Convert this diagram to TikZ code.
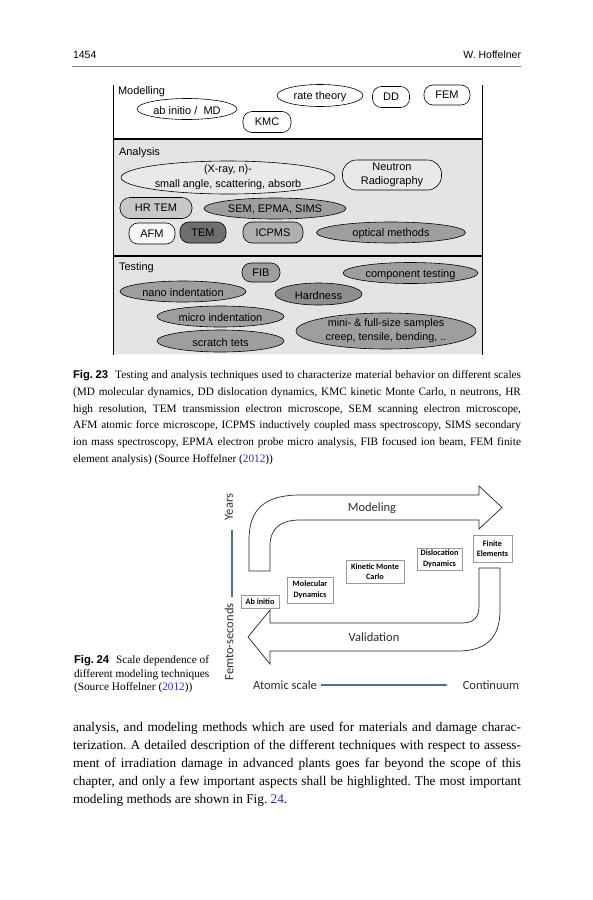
\documentclass[tikz,border=0pt]{standalone}
\usepackage{fontspec}
\setmainfont{Liberation Serif}
\newfontfamily\arialf{Liberation Sans}
\newfontfamily\calf{Carlito}
\usetikzlibrary{shapes.geometric,arrows.meta}
\definecolor{bgA}{HTML}{E4E4E4}
\definecolor{fxr}{HTML}{E9E9E9}
\definecolor{fhr}{HTML}{C8C8C8}
\definecolor{fmid}{HTML}{9E9E9E}
\definecolor{fafm}{HTML}{F7F7F7}
\definecolor{ftem}{HTML}{6F6F6F}
\definecolor{ficp}{HTML}{B0B0B0}
\definecolor{fhard}{HTML}{8E8E8E}
\definecolor{steel}{HTML}{4F6F94}
\definecolor{linkb}{HTML}{2B2BD9}
\definecolor{dgray}{HTML}{2E2E2E}
\definecolor{hdr}{HTML}{8A8A8A}
\begin{document}
\frenchspacing
\begin{tikzpicture}[x=1pt,y=-1pt,
  every node/.style={inner sep=0pt, outer sep=0pt},
  rnode/.style={draw=black, line width=0.6pt, fill=white, rounded corners=9pt,
    font=\arialf\fontsize{11}{14}\selectfont, align=center},
  enode/.style={draw=black, line width=0.6pt, ellipse, fill=white},
  elbl/.style={font=\arialf\fontsize{11}{15}\selectfont, yshift=-1.2pt},
  elbl2/.style={font=\arialf\fontsize{10.8}{14.5}\selectfont, align=center, yshift=0.3pt},
  seclbl/.style={font=\arialf\fontsize{11}{13}\selectfont, anchor=west},
  thick line/.style={line width=2.3pt, black},
  frameline/.style={line width=0.8pt, black},
  fbox/.style={draw=black!40, line width=0.5pt, fill=white,
    font=\calf\bfseries\fontsize{8.2}{10.5}\selectfont, align=center},
  flbl/.style={font=\calf\fontsize{12.5}{14}\selectfont, text=dgray},
  bigarrow/.style={draw=black!85, line width=0.7pt, fill=white, line join=miter},
  capline/.style={anchor=base west, font=\fontsize{11.3}{12}\selectfont},
  bodyline/.style={anchor=base west, font=\fontsize{13.3}{15}\selectfont},
  c24/.style={anchor=base west, font=\fontsize{11.3}{12}\selectfont}
]
\useasboundingbox (0,0) rectangle (593,900);
\fill[white] (0,0) rectangle (593,900);

% header
\node[anchor=base west, font=\arialf\fontsize{10.5}{12}\selectfont] (pnum) at (73,58) {1454};
\node[anchor=base east, font=\arialf\fontsize{10.5}{12}\selectfont] (auth) at (521,58) {W. Hoffelner};
\draw[hdr, line width=0.8pt] (72,66) -- (521,66);

% ---------------- Fig 23 ----------------
\fill[bgA] (113,140) rectangle (482,255);
\fill[bgA] (113,257) rectangle (482,354);
\draw[frameline] (113,85) -- (113,355);
\draw[frameline] (482,85) -- (482,355);
\draw[thick line] (113,139) -- (482,139);
\draw[thick line] (113,256) -- (482,256);

\node[seclbl] (modl) at (118,92) {Modelling};
\node[seclbl] (anal) at (119,153) {Analysis};
\node[seclbl] (test) at (119,268) {Testing};

% Modelling
\node[enode, minimum width=100, minimum height=21] (abmd) at (187,109) {};
\node[elbl] (abmdT) at (abmd.center) {ab initio /\ \ MD};
\node[enode, minimum width=86, minimum height=22] (rate) at (320,95.5) {};
\node[elbl] (rateT) at (rate.center) {rate theory};
\node[rnode, minimum width=37, minimum height=21] (dd) at (391,97) {DD};
\node[rnode, minimum width=46, minimum height=20] (fem) at (447,95) {FEM};
\node[rnode, minimum width=48, minimum height=21] (kmc) at (267,122) {KMC};

% Analysis
\node[enode, fill=fxr, minimum width=214, minimum height=33] (xray) at (228,177.5) {};
\node[elbl2] (xrayT) at (xray.center) {(X-ray, n)-\\small angle, scattering, absorb};
\node[rnode, fill=fxr, rounded corners=14pt, minimum width=99, minimum height=30,
  font=\arialf\fontsize{11}{14}\selectfont] (neut) at (392,175) {Neutron\\Radiography};
\node[rnode, fill=fhr, rounded corners=10pt, minimum width=72, minimum height=21] (hrtem) at (156,208) {HR TEM};
\node[enode, fill=fmid, minimum width=142, minimum height=21] (sem) at (275,208.5) {};
\node[elbl] (semT) at (sem.center) {SEM, EPMA, SIMS};
\node[rnode, fill=fafm, minimum width=46, minimum height=21] (afm) at (152,233.5) {AFM};
\node[rnode, fill=ftem, minimum width=46, minimum height=21] (tem) at (203,232.5) {TEM};
\node[rnode, fill=ficp, minimum width=60, minimum height=21] (icp) at (273,232.5) {ICPMS};
\node[enode, fill=fmid, minimum width=149, minimum height=21] (opt) at (391,232.5) {};
\node[elbl] (optT) at (opt.center) {optical methods};

% Testing
\node[rnode, fill=fmid, minimum width=38, minimum height=19] (fib) at (261,272.5) {FIB};
\node[enode, fill=fmid, minimum width=135, minimum height=21] (comp) at (410.5,273) {};
\node[elbl] (compT) at (comp.center) {component testing};
\node[enode, fill=fmid, minimum width=126, minimum height=21] (nano) at (183,291.5) {};
\node[elbl] (nanoT) at (nano.center) {nano indentation};
\node[enode, fill=fhard, minimum width=87, minimum height=22] (hard) at (318.5,294) {};
\node[elbl] (hardT) at (hard.center) {Hardness};
\node[enode, fill=fmid, minimum width=127, minimum height=21] (micro) at (220.5,316.5) {};
\node[elbl] (microT) at (micro.center) {micro indentation};
\node[enode, fill=fmid, minimum width=127, minimum height=22] (scr) at (220.5,341) {};
\node[elbl] (scrT) at (scr.center) {scratch tets};
\node[enode, fill=fmid, minimum width=180, minimum height=36] (mini) at (386,331) {};
\node[elbl2] (miniT) at (mini.center) {mini- \& full-size samples\\creep, tensile, bending, ..};

% caption 23
\node[capline] (c1) at (73,378.5) {\makebox[448pt][s]{{\arialf\bfseries Fig.\kern2.5pt23}\kern7pt Testing and analysis techniques used to characterize material behavior on different scales}};
\node[capline] (c2) at (73,395.3) {\makebox[448pt][s]{(MD molecular dynamics, DD dislocation dynamics, KMC kinetic Monte Carlo, n neutrons, HR}};
\node[capline] (c3) at (73,412.1) {\makebox[448pt][s]{high resolution, TEM transmission electron microscope, SEM scanning electron microscope,}};
\node[capline] (c4) at (73,428.9) {\makebox[448pt][s]{AFM atomic force microscope, ICPMS inductively coupled mass spectroscopy, SIMS secondary}};
\node[capline] (c5) at (73,445.7) {\makebox[448pt][s]{ion mass spectroscopy, EPMA electron probe micro analysis, FIB focused ion beam, FEM finite}};
\node[capline] (c6) at (73,462.5) {element analysis) (Source Hoffelner (\textcolor{linkb}{2012}))};

% ---------------- Fig 24 ----------------
\path[bigarrow] (249,571) -- (249,540) .. controls (249,508) and (266,495) .. (300,495)
  -- (479,495) -- (479,486) -- (502,507.5) -- (479,529) -- (479,520) -- (300,520)
  .. controls (281,520) and (270,528) .. (270,546) -- (270,571) -- cycle;
\path[bigarrow] (479,568) -- (500,568) -- (500,610) .. controls (500,638) and (486,651) .. (458,651)
  -- (270,651) -- (270,664) -- (248,637) -- (270,610) -- (270,623) -- (462,623)
  .. controls (474,623) and (479,617) .. (479,606) -- cycle;
\node[flbl] (modeling) at (372,508) {Modeling};
\node[flbl] (valid) at (374,637) {Validation};

\node[fbox, minimum width=38, minimum height=13] (abi) at (260,602) {Ab initio};
\node[fbox, minimum width=46, minimum height=26] (md) at (310,590) {Molecular\\Dynamics};
\node[fbox, minimum width=58, minimum height=23] (kmc2) at (375,571.5) {Kinetic Monte\\Carlo};
\node[fbox, minimum width=45, minimum height=22] (dis) at (439.5,559) {Dislocation\\Dynamics};
\node[fbox, minimum width=39, minimum height=27] (fin) at (492.5,548.5) {Finite\\Elements};

\node[flbl, rotate=90] (years) at (229,507) {Years};
\node[flbl, rotate=90] (femto) at (229,642) {Femto-seconds};
\coordinate (yt) at (232,530);
\coordinate (yb) at (232,597);
\draw[steel, line width=1.2pt] (yt) -- (yb);

\node[flbl] (atom) at (285,685) {Atomic scale};
\node[flbl] (cont) at (491,685) {Continuum};
\coordinate (al) at (321,685);
\coordinate (ar) at (448,685);
\draw[steel, line width=1.2pt, -{Stealth[length=4pt,width=3pt]}] (al) -- (ar);

\node[c24] (f1) at (74,663.5) {{\arialf\bfseries Fig.\kern2.5pt24}\kern7pt Scale dependence of};
\node[c24] (f2) at (74,677) {different modeling techniques};
\node[c24] (f3) at (74,690.5) {(Source Hoffelner (\textcolor{linkb}{2012}))};

% ---------------- body ----------------
\node[bodyline] (b1) at (73,731) {\makebox[448pt][s]{analysis, and modeling methods which are used for materials and damage charac-}};
\node[bodyline] (b2) at (73,749) {\makebox[448pt][s]{terization. A detailed description of the different techniques with respect to assess-}};
\node[bodyline] (b3) at (73,767) {\makebox[448pt][s]{ment of irradiation damage in advanced plants goes far beyond the scope of this}};
\node[bodyline] (b4) at (73,785) {\makebox[448pt][s]{chapter, and only a few important aspects shall be highlighted. The most important}};
\node[bodyline] (b5) at (73,803) {modeling methods are shown in Fig.~\textcolor{linkb}{24}.};
\end{tikzpicture}
\end{document}
